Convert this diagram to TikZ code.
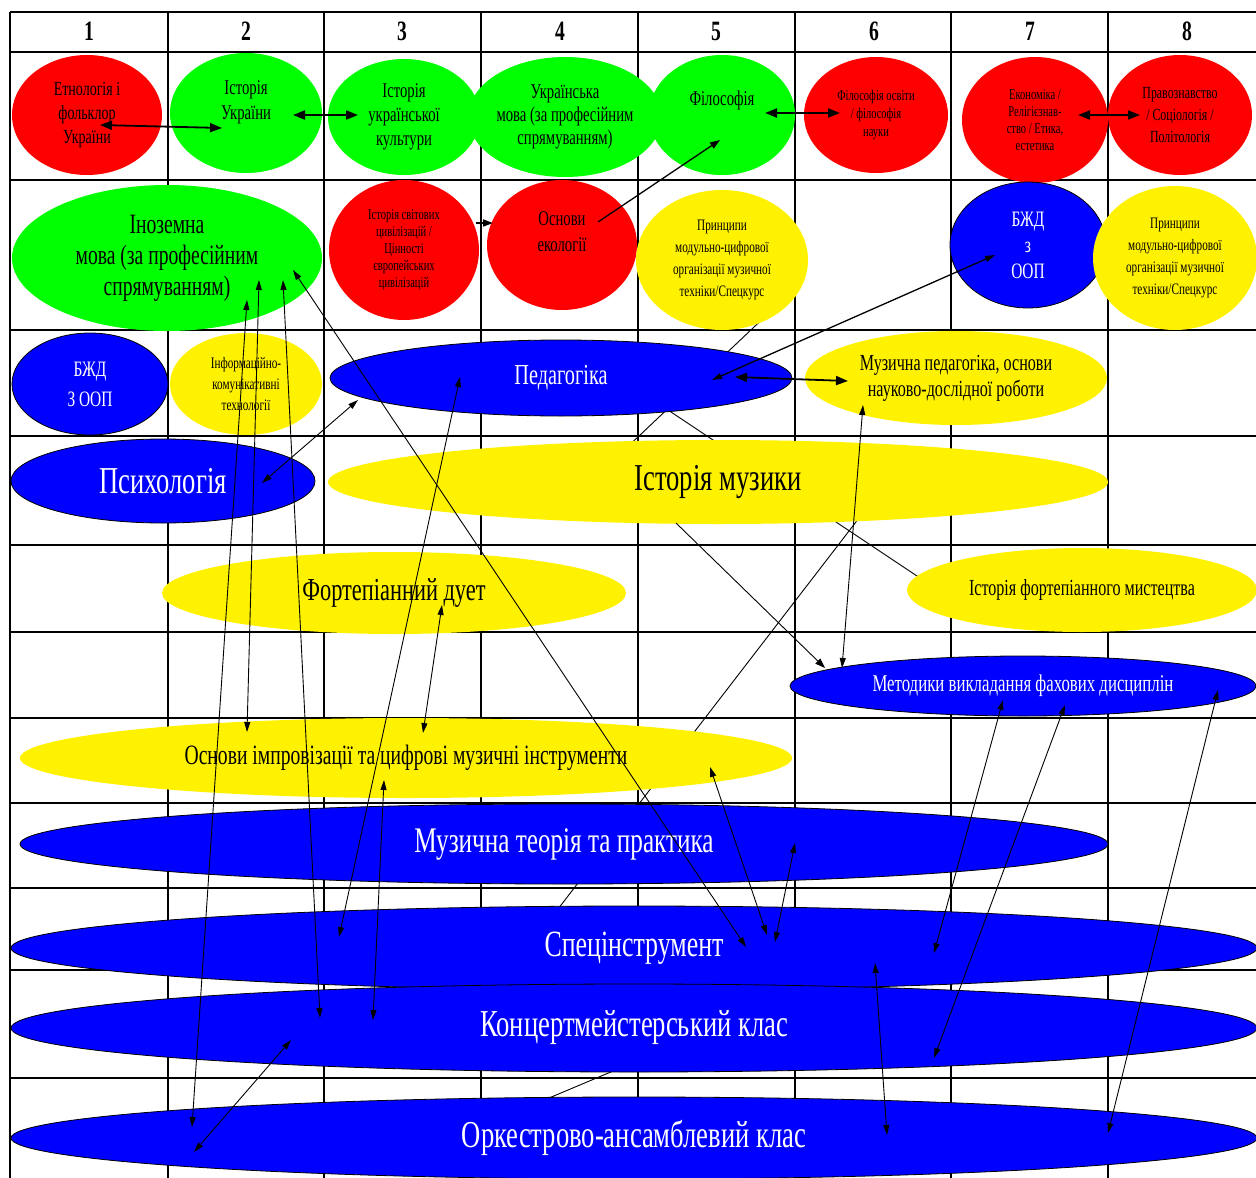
\documentclass[tikz,border=0pt]{standalone}
\usepackage{fontspec}
\setmainfont{Liberation Serif}[FakeStretch=0.7]
\usetikzlibrary{shapes.geometric,arrows.meta,backgrounds}

\newcommand\fsz[2]{\fontsize{#1}{#2}\selectfont}

\tikzset{
  gridline/.style={line width=1.3pt},
  subj/.style={ellipse, inner sep=0pt, align=center},
  redsubj/.style={subj, fill=red},
  greensubj/.style={subj, fill=green},
  yellowsubj/.style={subj, fill=yellow},
  bluesubj/.style={subj, fill=blue, draw=black, line width=0.8pt, text=white},
  link/.style={{Triangle[length=10pt,width=6pt]}-{Triangle[length=10pt,width=6pt]}, line width=0.9pt},
  boldlink/.style={{Triangle[length=12pt,width=9pt]}-{Triangle[length=12pt,width=9pt]}, line width=1.8pt},
  onelink/.style={-{Triangle[length=10pt,width=7pt]}, line width=1.3pt},
  hiddenlink/.style={line width=0.9pt}
}

\begin{document}
\begin{tikzpicture}[x=1pt, y=-1pt]
    \useasboundingbox (0,0) rectangle (1256,1178);
    \begin{scope}[on background layer]
    \fill[white] (0,0) rectangle (1256,1178);
    \foreach \x in {10,168,324,481,638,795,951,1108}
    \draw[gridline] (\x,12) -- (\x,1178);
    \foreach \y in {12,52,180,330,436,545,632,718,803,888,970,1078}
    \draw[gridline] (10,\y) -- (1256,\y);
    \end{scope}
    \foreach \n/\x in {1/89,2/246,3/402,4/560,5/716,6/874,7/1030,8/1187}
    \node[font=\bfseries\fsz{28}{30}] (col\n) at (\x,31) {\n};

    \node[redsubj, minimum width=150, minimum height=120, font=\fsz{20}{24}] (etno) at (87,115) {Етнологія і\\фольклор\\України};
    \node[greensubj, minimum width=152, minimum height=120, font=\fsz{21}{25}] (istukr) at (246,113) {Історія\\України\\ \mbox{}};
    \node[greensubj, minimum width=152, minimum height=116, font=\fsz{21}{24}] (kult) at (404,117) {Історія\\української\\культури};
    \node[greensubj, minimum width=180, minimum height=120, font=\fsz{21}{23}] (ukrmova) at (565,117) {Українська\\мова (за професійним\\спрямуванням)};
    \node[greensubj, minimum width=146, minimum height=120, font=\fsz{21}{34}] (filos) at (722,115) {Філософія\\ \mbox{}};
    \node[redsubj, minimum width=144, minimum height=116, font=\fsz{15}{18}] (filosv) at (876,115) {Філософія освіти\\/ філософія\\науки};
    \node[redsubj, minimum width=146, minimum height=126, font=\fsz{15}{17}] (ekon) at (1035,120) {Економіка /\\Релігієзнав-\\ство / Етика,\\естетика};
    \node[redsubj, minimum width=144, minimum height=120, font=\fsz{17}{22}] (pravo) at (1180,115) {Правознавство\\/ Соціологія /\\Політологія};

    \node[greensubj, minimum width=310, minimum height=146, font=\fsz{28}{31}] (inozem) at (167,258) {Іноземна\\мова (за професійним\\спрямуванням)};
    \node[redsubj, minimum width=150, minimum height=140, font=\fsz{15}{17}] (tsyv) at (404,250) {Історія світових\\цивілізацій /\\Цінності\\європейських\\цивілізацій};
    \node[redsubj, minimum width=150, minimum height=130, font=\fsz{21}{26}] (ekol) at (562,245) {Основи\\екології\\ \mbox{}};
    \node[yellowsubj, minimum width=172, minimum height=140, font=\fsz{16}{22}] (pryntsA) at (722,260) {Принципи\\модульно-цифрової\\організації музичної\\техніки/Спецкурс};
    \node[bluesubj, minimum width=156, minimum height=126, font=\fsz{22}{26}] (bzhdA) at (1028,245) {БЖД\\з\\ООП};
    \node[yellowsubj, minimum width=164, minimum height=144, font=\fsz{16}{22}] (pryntsB) at (1175,258) {Принципи\\модульно-цифрової\\організації музичної\\техніки/Спецкурс};

    \node[bluesubj, minimum width=156, minimum height=102, font=\fsz{22}{30}] (bzhdB) at (90,384) {БЖД\\З ООП};
    \node[yellowsubj, minimum width=152, minimum height=102, font=\fsz{16}{21}] (ikt) at (246,384) {Інформаційно-\\комунікативні\\технології};
    \node[bluesubj, minimum width=462, minimum height=76, font=\fsz{29}{32}] (pedag) at (561,378) {Педагогіка};
    \node[yellowsubj, minimum width=302, minimum height=94, font=\fsz{23}{26}] (muzped) at (956,378) {Музична педагогіка, основи\\науково-дослідної роботи};

    \node[bluesubj, minimum width=304, minimum height=84, font=\fsz{38}{40}] (psych) at (163,481) {Психологія};
    \node[yellowsubj, minimum width=780, minimum height=84, font=\fsz{38}{40}] (istmuz) at (718,482) {Історія музики};
    \node[yellowsubj, minimum width=464, minimum height=82, font=\fsz{32}{34}] (duet) at (394,593) {Фортепіанний дует};
    \node[yellowsubj, minimum width=350, minimum height=84, font=\fsz{23}{26}] (istfort) at (1082,590) {Історія фортепіанного мистецтва};
    \node[bluesubj, minimum width=466, minimum height=60, font=\fsz{24}{26}] (metod) at (1023,686) {Методики викладання фахових дисциплін};
    \node[yellowsubj, minimum width=772, minimum height=80, font=\fsz{28}{30}] (improv) at (406,758) {Основи імпровізації та цифрові музичні інструменти};
    \node[bluesubj, minimum width=1088, minimum height=80, font=\fsz{36}{38}] (teor) at (564,844) {Музична теорія та практика};
    \node[bluesubj, minimum width=1246, minimum height=84, font=\fsz{37}{40}] (spets) at (634,948) {Спецінструмент};
    \node[bluesubj, minimum width=1246, minimum height=88, font=\fsz{38}{40}] (konts) at (634,1028) {Концертмейстерський клас};
    \node[bluesubj, minimum width=1246, minimum height=82, font=\fsz{38}{40}] (orkestr) at (634,1138) {Оркестрово-ансамблевий клас};

    \begin{scope}[on background layer]
    \draw[hiddenlink] ([shift={(151,23)}]istmuz.center) -- ([shift={(-96,-13)}]spets.center);
    \draw[hiddenlink] ([shift={(-9,38)}]konts.center) -- ([shift={(-104,-32)}]orkestr.center);
    \draw[hiddenlink] ([shift={(-117,-10)}]istmuz.center) -- ([shift={(50,50)}]pryntsA.center);
    \draw[hiddenlink] ([shift={(89,20)}]pedag.center) -- ([shift={(-132,8)}]istfort.center);
    \end{scope}

    \draw[boldlink] ([shift={(13,10)}]etno.center) -- ([shift={(-24,15)}]istukr.center);
    \draw[boldlink] ([shift={(47,2)}]istukr.center) -- ([shift={(-46,-2)}]kult.center);
    \draw[onelink] ([shift={(36,-23)}]ekol.center) -- ([shift={(-2,25)}]filos.center);
    \draw[boldlink] ([shift={(43,-2)}]filos.center) -- ([shift={(-36,-2)}]filosv.center);
    \draw[boldlink] ([shift={(43,-5)}]ekon.center) -- ([shift={(-40,0)}]pravo.center);
    \draw[onelink, line width=1.8pt] ([shift={(72,-27)}]tsyv.center) -- ([shift={(-69,-22)}]ekol.center);
    \draw[link, line width=1.3pt] ([shift={(151,2)}]pedag.center) -- ([shift={(-33,10)}]bzhdA.center);
    \draw[boldlink] ([shift={(174,-1)}]pedag.center) -- ([shift={(-108,3)}]muzped.center);
    \draw[link] ([shift={(126,12)}]inozem.center) -- ([shift={(112,-1)}]spets.center);
    \draw[link] ([shift={(80,42)}]inozem.center) -- ([shift={(-442,-11)}]orkestr.center);
    \draw[link] ([shift={(92,22)}]inozem.center) -- ([shift={(-159,-26)}]improv.center);
    \draw[link] ([shift={(116,22)}]inozem.center) -- ([shift={(-314,-10)}]konts.center);
    \draw[link] ([shift={(99,2)}]psych.center) -- ([shift={(-203,22)}]pedag.center);
    \draw[link] ([shift={(-101,-1)}]pedag.center) -- ([shift={(-295,-11)}]spets.center);
    \draw[link] ([shift={(48,12)}]duet.center) -- ([shift={(17,-25)}]improv.center);
    \draw[link] ([shift={(-22,22)}]improv.center) -- ([shift={(-261,-8)}]konts.center);
    \draw[link] ([shift={(-343,12)}]konts.center) -- ([shift={(-440,14)}]orkestr.center);
    \draw[link] ([shift={(304,9)}]improv.center) -- ([shift={(133,-13)}]spets.center);
    \draw[link] ([shift={(231,-1)}]teor.center) -- ([shift={(141,-6)}]spets.center);
    \draw[link] ([shift={(-20,14)}]metod.center) -- ([shift={(300,5)}]spets.center);
    \draw[link] ([shift={(42,19)}]metod.center) -- ([shift={(300,30)}]konts.center);
    \draw[link] ([shift={(195,4)}]metod.center) -- ([shift={(474,-5)}]orkestr.center);
    \draw[link] ([shift={(241,15)}]spets.center) -- ([shift={(253,-3)}]orkestr.center);
    \draw[link] ([shift={(-93,27)}]muzped.center) -- ([shift={(-181,-18)}]metod.center);
    \draw[onelink, line width=0.9pt] ([shift={(-42,41)}]istmuz.center) -- ([shift={(-198,-18)}]metod.center);
\end{tikzpicture}
\end{document}
